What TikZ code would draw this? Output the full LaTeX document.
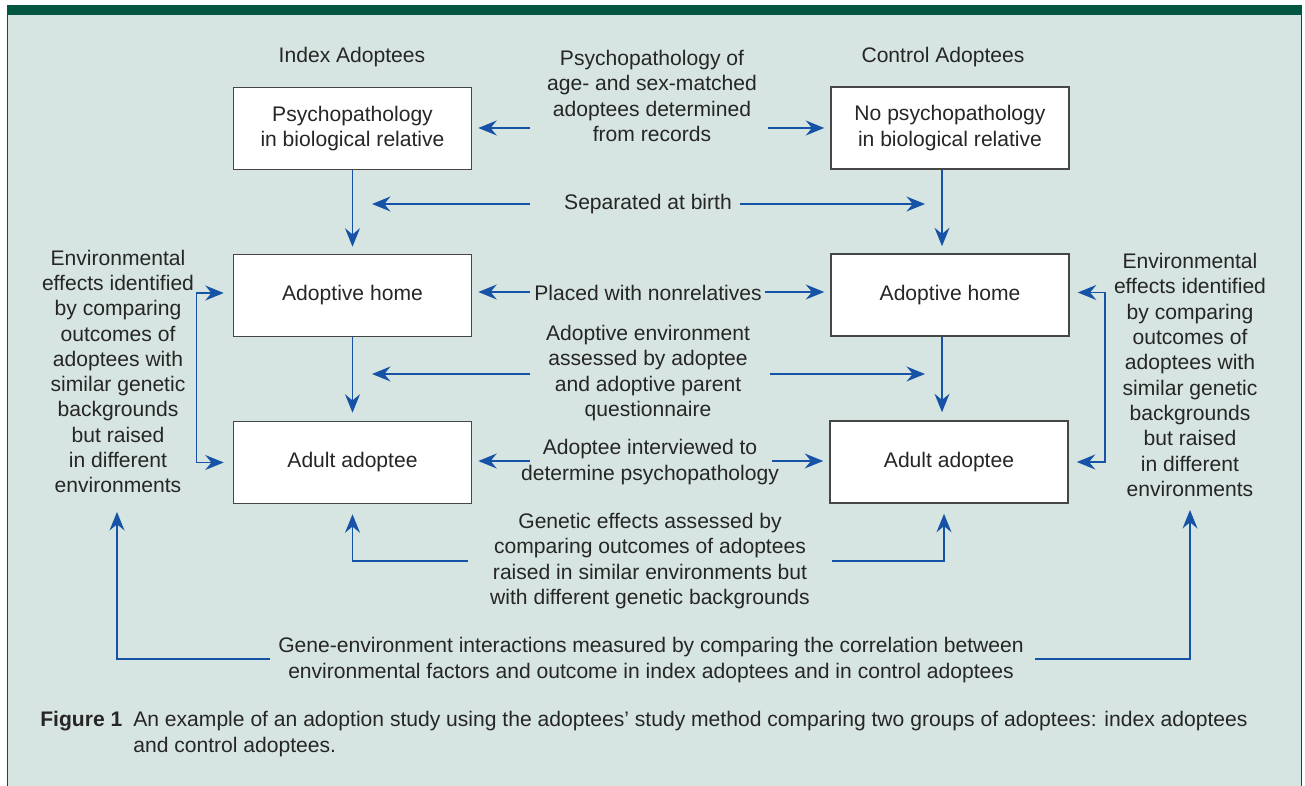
\documentclass[tikz,border=0pt]{standalone}
\usepackage{fontspec}
\setmainfont{Liberation Sans}
\usetikzlibrary{arrows.meta}
\definecolor{panelfill}{RGB}{215,229,226}
\definecolor{panelgreen}{RGB}{0,86,64}
\definecolor{arrowblue}{RGB}{22,82,165}
\definecolor{inkgray}{RGB}{38,38,38}
\definecolor{boxedge}{RGB}{70,70,70}
\tikzset{
    box/.style={draw=boxedge, line width=0.9pt, fill=white, text=inkgray,
        minimum width=4.76cm, minimum height=1.64cm, align=center, inner sep=0pt} }
\tikzset{
    lbl/.style={align=center, text=inkgray, inner sep=0pt},
    link/.style={draw=arrowblue, line width=0.85pt,
        -{Stealth[length=10.5pt,width=8.5pt,inset=3.5pt]}},
    twolink/.style={draw=arrowblue, line width=0.85pt,
        {Stealth[length=10.5pt,width=8.5pt,inset=3.5pt]}-{Stealth[length=10.5pt,width=8.5pt,inset=3.5pt]}} }

\begin{document}
\begin{tikzpicture}[x=0.02cm, y=-0.02cm, font=\fontsize{12}{14.4}\selectfont]

  \useasboundingbox (0,0) rectangle (1305,786);
  % panel
  \fill [panelfill] (7,5) rectangle (1302,786);
  \fill [panelgreen] (7,5) rectangle (1302,15);
  \draw [panelgreen, line width=1pt] (7.5,5) -- (7.5,786); \draw [panelgreen, line width=1pt] (1301.5,5) -- (1301.5,786);

  % columns
  \node (idxhead) [lbl] at (352,57) {Index Adoptees};  \node (ctlhead) [lbl] at (943,57) {Control Adoptees};
  \node (idxrel) [box] at (352.5,128.5) {Psychopathology\\ in biological relative};
  \node (ctlrel) [box] at (950,128) {No psychopathology\\ in biological relative};
  \node (idxhome) [box] at (352.5,295.5) {Adoptive home};  \node (ctlhome) [box] at (950,295) {Adoptive home};
  \node (idxadult) [box] at (352.5,462.5) {Adult adoptee};  \node (ctladult) [box] at (949,462) {Adult adoptee};

  % middle texts
  \node (records) [lbl] at (652,96) {Psychopathology of\\ age- and sex-matched\\ adoptees determined\\ from records};
  \node (birth) [lbl] at (648,204) {Separated at birth};
  \node (placed) [lbl] at (648,293) {Placed with nonrelatives};
  \node (assess) [lbl] at (648,373) {Adoptive environment\\ assessed by adoptee\\ and adoptive parent\\ questionnaire};
  \node (interview) [lbl] at (650,462) {Adoptee interviewed to\\ determine psychopathology};
  \node (genetic) [lbl] at (650,561) {Genetic effects assessed by\\ comparing outcomes of adoptees\\ raised in similar environments but\\ with different genetic backgrounds};
  \node (envidx) [lbl] at (118,371.5) {Environmental\\ effects identified\\ by comparing\\ outcomes of\\ adoptees with\\ similar genetic\\ backgrounds\\ but raised\\ in different\\ environments};
  \node (envctl) [lbl] at (1190,375) {Environmental\\ effects identified\\ by comparing\\ outcomes of\\ adoptees with\\ similar genetic\\ backgrounds\\ but raised\\ in different\\ environments};
  \node (gxe) [lbl] at (651,660) {Gene-environment interactions measured by comparing the correlation between\\ environmental factors and outcome in index adoptees and in control adoptees};

  % free ends
  \coordinate (recL) at (530,128);  \coordinate (recR) at (768,128);
  \coordinate (birthL) at (530,204);  \coordinate (birthLtip) at (372,204);
  \coordinate (birthR) at (740,204);  \coordinate (birthRtip) at (925,204);
  \coordinate (placedL) at (530,292);  \coordinate (placedR) at (765,292);
  \coordinate (assessL) at (530,374);  \coordinate (assessLtip) at (372,374);
  \coordinate (assessR) at (770,374);  \coordinate (assessRtip) at (925,374);
  \coordinate (interL) at (530,461);  \coordinate (interR) at (772,461);
  \coordinate (genL) at (468,561);  \coordinate (genR) at (832,561);
  \coordinate (gxeL) at (270,659);  \coordinate (gxeR) at (1035,659);
  \coordinate (envidxfoot) at (117,512);  \coordinate (envctlfoot) at (1190,510);

  % arrows
  \draw [link, shorten >=0.12cm] (recL) -- (recL -| idxrel.east);  \draw [link, shorten >=0.12cm] (recR) -- (recR -| ctlrel.west);
  \draw [link] (birthL) -- (birthLtip);  \draw [link] (birthR) -- (birthRtip);
  \draw [link, shorten >=0.12cm] (placedL) -- (placedL -| idxhome.east);  \draw [link, shorten >=0.12cm] (placedR) -- (placedR -| ctlhome.west);
  \draw [link] (assessL) -- (assessLtip);  \draw [link] (assessR) -- (assessRtip);
  \draw [link, shorten >=0.12cm] (interL) -- (interL -| idxadult.east);  \draw [link, shorten >=0.12cm] (interR) -- (interR -| ctladult.west);

  \draw [link, shorten >=0.14cm] (idxrel) -- (idxhome);  \draw [link, shorten >=0.16cm] (idxhome) -- (idxadult);
  \draw [link, shorten >=0.14cm] ([xshift=-0.16cm]ctlrel.south) -- ([xshift=-0.16cm]ctlhome.north);
  \draw [link, shorten >=0.16cm] ([xshift=-0.16cm]ctlhome.south) -- ([xshift=-0.14cm]ctladult.north);

  \draw [link, shorten >=0.2cm] (genL) -| (idxadult.south);  \draw [link, shorten >=0.2cm] (genR) -| ([xshift=-0.1cm]ctladult.south);
  \draw [twolink, shorten <=0.18cm, shorten >=0.18cm] ([yshift=0.05cm]idxhome.west) -- ++(-36,0) |- (idxadult.west);
  \draw [twolink, shorten <=0.16cm, shorten >=0.16cm] ([yshift=0.05cm]ctlhome.east) -- ++(35,0) |- (ctladult.east);
  \draw [link] (gxeL) -| (envidxfoot);  \draw [link] (gxeR) -| (envctlfoot);

  % caption
  \node (figlbl) [lbl, anchor=west, font=\fontsize{12}{14.4}\selectfont\bfseries] at (40,721) {Figure 1};
  \node (caption) [lbl, align=left, anchor=west] at (133,734) {An example of an adoption study using the adoptees’ study method comparing two groups of adoptees: index adoptees\\ and control adoptees.};

\end{tikzpicture}
\end{document}
